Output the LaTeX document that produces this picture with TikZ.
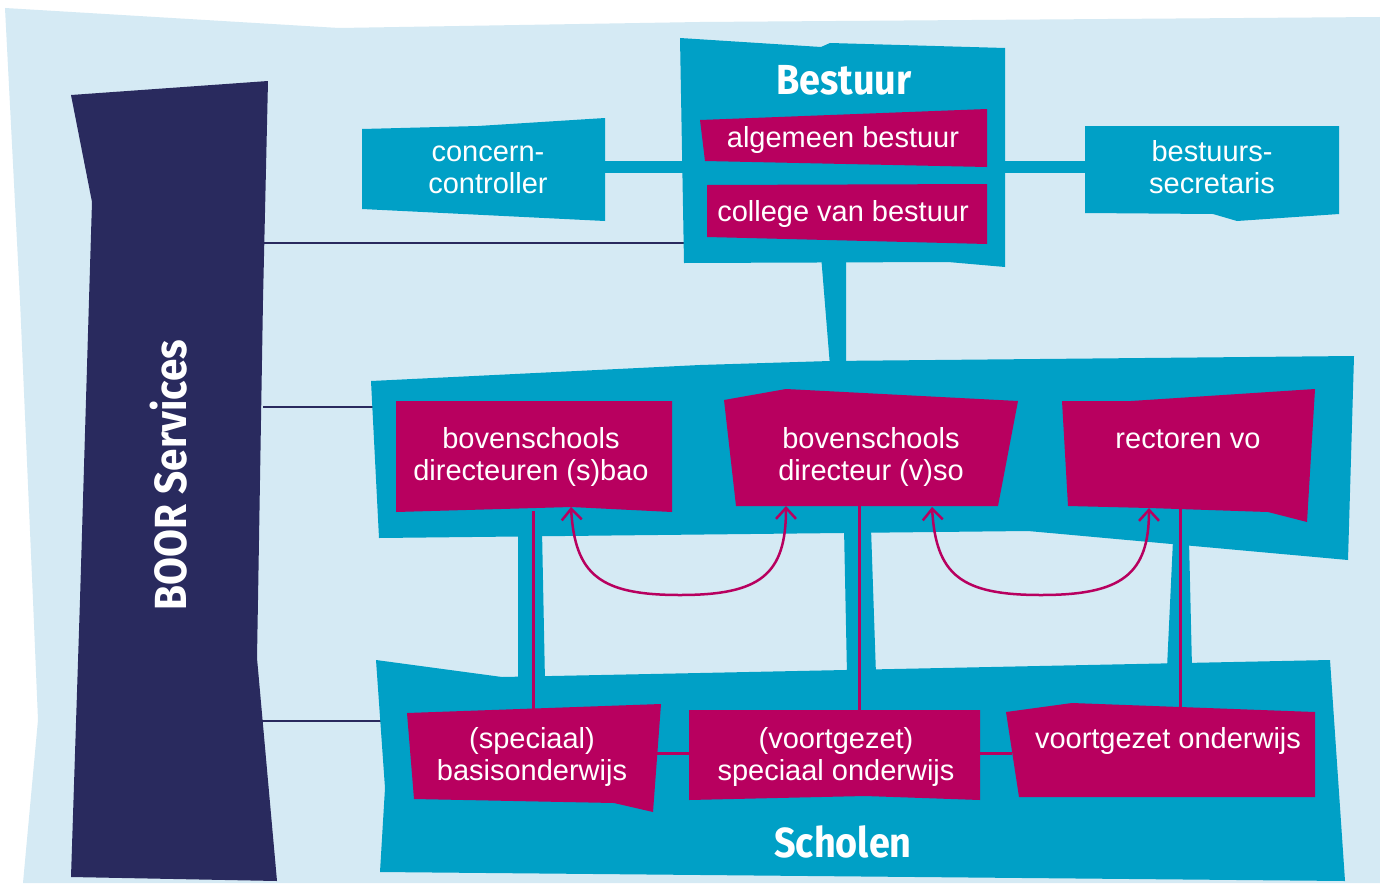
\documentclass[tikz,border=0pt]{standalone}
\usepackage{fontspec}
\setmainfont{Liberation Sans}
\newfontfamily\titlefont{Fira Sans}[FakeStretch=0.9]
\usetikzlibrary{arrows.meta}
\definecolor{boorbg}{HTML}{D5EAF4}
\definecolor{boorteal}{HTML}{00A0C6}
\definecolor{boormag}{HTML}{B8005F}
\definecolor{boornavy}{HTML}{292A5E}
\newcommand\twolines[2]{\begin{tabular}[b]{@{}c@{}}#1\\#2\end{tabular}}
\begin{document}
\begin{tikzpicture}[x=1pt,y=-1pt,
  lbl/.style={text=white, font=\fontsize{29}{32}\selectfont, inner sep=0pt, anchor=base},
  ttl/.style={text=white, font=\titlefont\bfseries\fontsize{42}{48}\selectfont, inner sep=0pt, anchor=base},
  navyline/.style={draw=boornavy, line width=2.5pt},
  magline/.style={draw=boormag, line width=3pt},
  magarrow/.style={draw=boormag, line width=2.5pt, >={Straight Barb[length=11pt,width=20pt]}, <->},
  tealshape/.style={fill=boorteal},
  magshape/.style={fill=boormag}]
\fill[white] (0,0) rectangle (1380,883);
\useasboundingbox (0,0) rectangle (1380,883);
% background
\fill[boorbg] (5,8) -- (339,28) -- (700,22) -- (1380,17) -- (1380,883) -- (23,883) -- (38,720) -- (33,600) -- (20,300) -- cycle;
% navy column
\fill[boornavy] (71,95) -- (268,81) -- (263,300) -- (258,600) -- (257,658) -- (277,881) -- (71,877) -- (80,600) -- (89,300) -- (92,202) -- cycle;
% navy connectors
\coordinate (nv1) at (263,243); \coordinate (bsl) at (686,243);
\coordinate (nv2) at (263,407); \coordinate (mpl) at (373,407);
\coordinate (nv3) at (262,721); \coordinate (spl) at (381,721);
\draw[navyline] (nv1) -- (bsl);
\draw[navyline] (nv2) -- (mpl);
\draw[navyline] (nv3) -- (spl);
% teal connectors
\fill[tealshape] (600,161) rectangle (690,173);
\fill[tealshape] (1000,161) rectangle (1090,173);
\fill[tealshape] (821,255) -- (846,255) -- (846,366) -- (830,366) -- cycle;
\fill[tealshape] (518,530) -- (542,530) -- (545,682) -- (518,682) -- cycle;
\fill[tealshape] (844,528) -- (871,528) -- (876,675) -- (847,675) -- cycle;
\fill[tealshape] (1173,540) -- (1189,540) -- (1192,668) -- (1167,668) -- cycle;
% teal boxes
\fill[tealshape] (362,129) -- (478,126) -- (605,118) -- (605,221) -- (362,209) -- cycle;
\fill[tealshape] (680,38) -- (821,47) -- (830,43) -- (1005,48) -- (1005,267) -- (948,262) -- (684,263) -- cycle;
\fill[tealshape] (1085,126) -- (1339,126) -- (1339,214) -- (1237,221) -- (1213,214) -- (1085,213) -- cycle;
\fill[tealshape] (371,381) -- (700,365) -- (830,361) -- (1354,356) -- (1348,560) -- (1028,531) -- (379,538) -- cycle;
\fill[tealshape] (376,660) -- (502,677) -- (700,673) -- (1330,660) -- (1345,881) -- (380,872) -- (385,788) -- cycle;
% magenta boxes
\fill[magshape] (700,120) -- (987,109) -- (987,167) -- (705,161) -- cycle;
\fill[magshape] (707,185) -- (987,184) -- (987,244) -- (707,237) -- cycle;
\fill[magshape] (396,401) -- (672,401) -- (672,512) -- (571,507) -- (396,512) -- cycle;
\fill[magshape] (724,400) -- (786,389) -- (1018,401) -- (998,506) -- (736,506) -- cycle;
\fill[magshape] (1062,401) -- (1131,401) -- (1315,389) -- (1307,522) -- (1268,512) -- (1149,508) -- (1068,506) -- cycle;
\fill[magshape] (407,713) -- (661,704) -- (653,812) -- (614,803) -- (414,799) -- cycle;
\fill[magshape] (689,710) -- (980,710) -- (980,800) -- (865,796) -- (689,800) -- cycle;
\fill[magshape] (1006,712) -- (1072,703) -- (1315,712) -- (1315,797) -- (1019,797) -- cycle;
% magenta connectors
\coordinate (abot) at (533,511); \coordinate (dtop) at (533,712);
\coordinate (bbot) at (859,505); \coordinate (etop) at (859,711);
\coordinate (cbot) at (1180,509); \coordinate (ftop) at (1180,707);
\coordinate (dr) at (655,753); \coordinate (el) at (690,753);
\coordinate (er) at (979,753); \coordinate (fl) at (1012,753);
\draw[magline] (abot) -- (dtop);
\draw[magline] (bbot) -- (etop);
\draw[magline] (cbot) -- (ftop);
\draw[magline] (dr) -- (el);
\draw[magline] (er) -- (fl);
% curved double arrows
\coordinate (a1) at (571,507); \coordinate (b1) at (786,506);
\coordinate (b2) at (932,507); \coordinate (c2) at (1149,508);
\draw[magarrow] (a1) .. controls (575,575) and (600,595) .. (680,595) .. controls (760,595) and (786,575) .. (b1);
\draw[magarrow] (b2) .. controls (936,575) and (961,595) .. (1041,595) .. controls (1121,595) and (1149,575) .. (c2);
% texts
\node[lbl] (cc) at (488,193) {\twolines{concern-}{controller}};
\node[lbl] (bsec) at (1212,193) {\twolines{bestuurs-}{secretaris}};
\node[lbl] (ab) at (843,147) {algemeen bestuur};
\node[lbl] (cvb) at (843,221) {college van bestuur};
\node[lbl] (bdsbao) at (531,480) {\twolines{bovenschools}{directeuren (s)bao}};
\node[lbl] (bdvso) at (871,480) {\twolines{bovenschools}{directeur (v)so}};
\node[lbl] (rvo) at (1188,448) {rectoren vo};
\node[lbl] (sbo) at (532,780) {\twolines{(speciaal)}{basisonderwijs}};
\node[lbl] (vso) at (836,780) {\twolines{(voortgezet)}{speciaal onderwijs}};
\node[lbl] (vo) at (1168,748) {voortgezet onderwijs};
\node[ttl] (bestuur) at (844,94) {Bestuur};
\node[ttl] (scholen) at (843,857) {Scholen};
\node[ttl, rotate=90, font=\titlefont\bfseries\fontsize{45}{50}\selectfont] (boor) at (186,475) {BOOR Services};
\end{tikzpicture}
\end{document}
